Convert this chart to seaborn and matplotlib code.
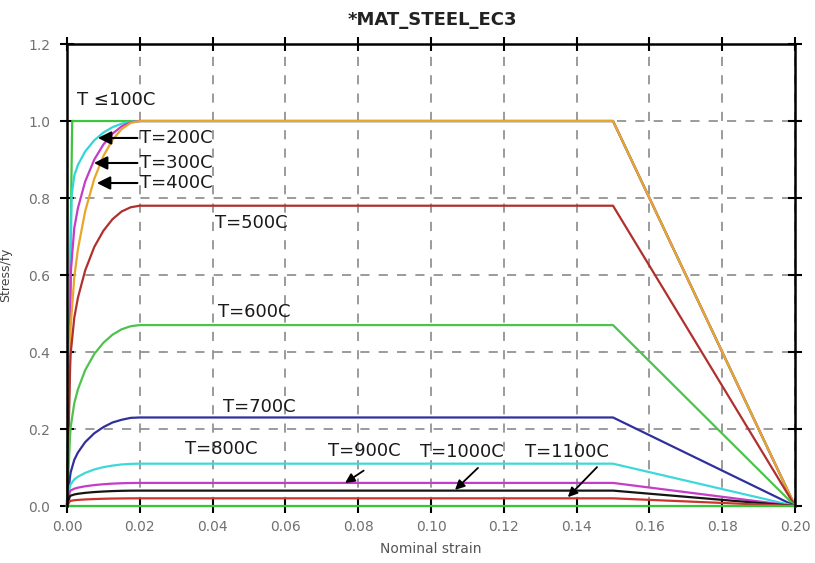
import matplotlib
matplotlib.use("Agg")
import matplotlib.pyplot as plt
import seaborn as sns
import pandas as pd

# curve labels and colours (drawing order = legend order of the original)
curves = ["T<=100", "T=200", "T=300", "T=400", "T=500", "T=600",
          "T=700", "T=800", "T=900", "T=1000", "T=1100", "T=1200"]
colors = ["#3ec43e", "#33d6d6", "#c43cc8", "#e9a62a", "#b0302e", "#4cc44c",
          "#30309c", "#3fd8d8", "#c43cc8", "#151515", "#c8342e", "#33c833"]

# nominal strain / normalised stress
strain_100 = [0.0, 0.00143, 0.15, 0.20]
stress_100 = [0.0, 1.0, 1.0, 0.0]

strain_200 = [0.0, 0.00128, 0.002, 0.003, 0.005, 0.0075, 0.01, 0.0125, 0.015, 0.0175, 0.02, 0.15, 0.20]
stress_200 = [0.0, 0.807, 0.858, 0.886, 0.921, 0.950, 0.970, 0.984, 0.993, 0.998, 1.0, 1.0, 0.0]

strain_300 = [0.0, 0.00109, 0.002, 0.003, 0.005, 0.0075, 0.01, 0.0125, 0.015, 0.0175, 0.02, 0.15, 0.20]
stress_300 = [0.0, 0.613, 0.722, 0.774, 0.843, 0.900, 0.939, 0.967, 0.986, 0.997, 1.0, 1.0, 0.0]

strain_400 = [0.0, 0.00086, 0.001, 0.002, 0.003, 0.005, 0.0075, 0.01, 0.0125, 0.015, 0.0175, 0.02, 0.15, 0.20]
stress_400 = [0.0, 0.42, 0.465, 0.594, 0.667, 0.766, 0.850, 0.909, 0.951, 0.979, 0.995, 1.0, 1.0, 0.0]

strain_500 = [0.0, 0.00086, 0.001, 0.002, 0.003, 0.005, 0.0075, 0.01, 0.0125, 0.015, 0.0175, 0.02, 0.15, 0.20]
stress_500 = [0.0, 0.36, 0.395, 0.489, 0.541, 0.612, 0.673, 0.715, 0.745, 0.765, 0.776, 0.78, 0.78, 0.0]

strain_600 = [0.0, 0.00083, 0.001, 0.002, 0.003, 0.005, 0.0075, 0.01, 0.0125, 0.015, 0.0175, 0.02, 0.15, 0.20]
stress_600 = [0.0, 0.18, 0.204, 0.267, 0.303, 0.353, 0.395, 0.424, 0.445, 0.459, 0.467, 0.47, 0.47, 0.0]

strain_700 = [0.0, 0.00082, 0.001, 0.002, 0.003, 0.005, 0.0075, 0.01, 0.0125, 0.015, 0.0175, 0.02, 0.15, 0.20]
stress_700 = [0.0, 0.075, 0.087, 0.120, 0.139, 0.166, 0.189, 0.205, 0.217, 0.224, 0.229, 0.23, 0.23, 0.0]

strain_low = [0.0, 0.00079, 0.001, 0.002, 0.003, 0.005, 0.0075, 0.01, 0.0125, 0.015, 0.0175, 0.02, 0.15, 0.20]
stress_800 = [0.0, 0.05, 0.0565, 0.069, 0.076, 0.086, 0.095, 0.101, 0.105, 0.108, 0.1095, 0.11, 0.11, 0.0]
stress_900 = [0.0, 0.0375, 0.0403, 0.045, 0.0477, 0.0513, 0.0544, 0.0566, 0.0582, 0.0592, 0.0598, 0.06, 0.06, 0.0]
stress_1000 = [0.0, 0.025, 0.0269, 0.030, 0.0318, 0.0342, 0.0363, 0.0377, 0.0388, 0.0395, 0.0399, 0.04, 0.04, 0.0]
stress_1100 = [0.0, 0.0125, 0.0134, 0.015, 0.0159, 0.0171, 0.0181, 0.0189, 0.0194, 0.0197, 0.0199, 0.02, 0.02, 0.0]

strain_1200 = [0.0, 0.20]
stress_1200 = [0.0, 0.0]

series = [(strain_100, stress_100), (strain_200, stress_200), (strain_300, stress_300),
          (strain_400, stress_400), (strain_500, stress_500), (strain_600, stress_600),
          (strain_700, stress_700), (strain_low, stress_800), (strain_low, stress_900),
          (strain_low, stress_1000), (strain_low, stress_1100), (strain_1200, stress_1200)]

frames = []
for name, (x, y) in zip(curves, series):
  frames.append(pd.DataFrame({"curve": name, "strain": x, "stress": y}))
df = pd.concat(frames, ignore_index=True)

fig = plt.figure(figsize=(8.15, 5.63), dpi=100)
ax = fig.add_axes([0.0822, 0.1012, 0.8933, 0.8206])

sns.lineplot(data=df, x="strain", y="stress", hue="curve", hue_order=curves,
             palette=colors, sort=False, estimator=None, legend=False,
             linewidth=1.6, ax=ax)
for line in ax.lines:
  line.set_clip_on(False)

ax.set_xlim(0, 0.2)
ax.set_ylim(0, 1.2)
ax.set_xticks([i * 0.02 for i in range(11)])
ax.set_yticks([i * 0.2 for i in range(7)])
ax.set_xticklabels([f"{i * 0.02:.2f}" for i in range(11)])
ax.set_yticklabels([f"{i * 0.2:.1f}" for i in range(7)])
ax.grid(True, color="#808080", linestyle=(0, (6, 6)), linewidth=1.1)
ax.set_axisbelow(True)

for side in ["top", "left", "right"]:
  ax.spines[side].set_linewidth(1.8)
  ax.spines[side].set_color("black")
ax.spines["bottom"].set_visible(False)
ax.tick_params(direction="inout", length=10, width=1.5, top=True, right=True,
               labelcolor="#707070", labelsize=10, color="black")
ax.tick_params(axis="x", pad=5)
ax.tick_params(axis="y", pad=7)

ax.set_xlabel("Nominal strain", fontsize=10, color="#555555")
ax.xaxis.set_label_coords(0.5, -0.078)
ax.set_ylabel("Stress/fy", fontsize=9, color="#444444")
ax.yaxis.set_label_coords(-0.075, 0.5)

fig.text(0.531, 0.964, "*MAT_STEEL_EC3", ha="center", va="center",
         fontsize=13, fontweight="bold", color="#222222")

# labels
txt = dict(fontsize=13, color="#1a1a1a", ha="left", va="center")
ax.text(0.00275, 1.055, "T \u2264100C", **txt)
ax.text(0.0407, 0.735, "T=500C", **txt)
ax.text(0.0415, 0.504, "T=600C", **txt)
ax.text(0.0429, 0.257, "T=700C", **txt)
ax.text(0.0324, 0.148, "T=800C", **txt)
ax.text(0.0717, 0.143, "T=900C", **txt)
ax.text(0.0970, 0.140, "T=1000C", **txt)
ax.text(0.1258, 0.140, "T=1100C", **txt)

big = dict(arrowstyle="-|>", color="black", lw=1.5, mutation_scale=20,
           shrinkA=0, shrinkB=0, relpos=(0, 0.5))
ax.annotate("T=200C", xy=(0.0085, 0.956), xytext=(0.0201, 0.956), arrowprops=big, **txt)
ax.annotate("T=300C", xy=(0.0074, 0.891), xytext=(0.0201, 0.891), arrowprops=big, **txt)
ax.annotate("T=400C", xy=(0.0082, 0.839), xytext=(0.0201, 0.839), arrowprops=big, **txt)

small = dict(arrowstyle="-|>", color="black", lw=1.3, mutation_scale=14,
             shrinkA=0, shrinkB=0)
ax.annotate("", xy=(0.0764, 0.060), xytext=(0.0815, 0.092), arrowprops=small)
ax.annotate("", xy=(0.1066, 0.042), xytext=(0.1129, 0.099), arrowprops=small)
ax.annotate("", xy=(0.1376, 0.023), xytext=(0.1456, 0.101), arrowprops=small)

fig.savefig("out.png", dpi=100)
